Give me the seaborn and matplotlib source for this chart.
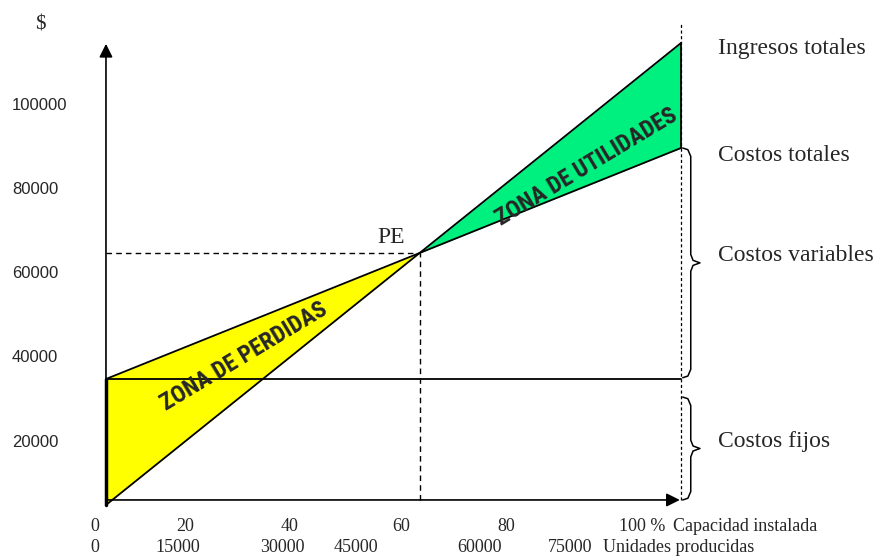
import numpy as np
import pandas as pd
import matplotlib
matplotlib.use("Agg")
import matplotlib.pyplot as plt
import seaborn as sns

# ---------------- data ----------------
capacidad = [0, 100]                    # % capacidad instalada
ingresos_totales = [5000, 115000]       # $
costos_totales = [35000, 90000]         # $
costos_fijos = [35000, 35000]           # $
eje_base = 6200                          # $ level where the x axis is drawn
eje_tope = 114800                        # $ level of the y arrow tip
y_ticks = [20000, 40000, 60000, 80000, 100000]
pct_labels = ["0", "20", "40", "60", "80"]
pct_pos = [-1.9, 13.7, 32.0, 51.3, 69.7]
unid_labels = ["0", "15000", "30000", "45000", "60000", "75000"]
unid_pos = [-1.9, 12.5, 30.6, 43.5, 65.0, 80.7]

sns.set_theme(style="white")
plt.rcParams["font.family"] = ["Liberation Serif", "DejaVu Serif"]

fig = plt.figure(figsize=(8.92, 5.58), dpi=100)
ax = fig.add_axes([0, 0, 1, 1])
ax.set_xlim(-18.43, 136.7)
ax.set_ylim(-7619, 125238)
ax.axis("off")

# break-even point from the two lines
r0, r1 = ingresos_totales
c0, c1 = costos_totales
pe_x = (c0 - r0) / ((r1 - r0) / 100 - (c1 - c0) / 100)
pe_y = r0 + (r1 - r0) / 100 * pe_x

xs = np.array([0, pe_x, 100])
rev = np.interp(xs, capacidad, ingresos_totales)
cst = np.interp(xs, capacidad, costos_totales)

ax.fill_between(xs, rev, cst, where=[True, True, False], color="#FFFF00", lw=0, zorder=1)
ax.fill_between(xs, rev, cst, where=[False, True, True], color="#00F080", lw=0, zorder=1)

df = pd.DataFrame({
    "capacidad": capacidad * 3,
    "valor": ingresos_totales + costos_totales + costos_fijos,
    "serie": ["Ingresos"] * 2 + ["Costos"] * 2 + ["Fijos"] * 2,
})
sns.lineplot(data=df, x="capacidad", y="valor", units="serie", estimator=None,
             color="black", lw=1.3, ax=ax, zorder=3, legend=False)

# thick left edge of the loss zone and right edge of the profit zone
ax.plot([0, 0], [ingresos_totales[0], costos_fijos[0]], color="black", lw=2.5, zorder=4)
ax.plot([100, 100], [costos_totales[1], ingresos_totales[1]], color="black", lw=1.3, zorder=4)

# axes with arrows
ax.annotate("", xy=(0, eje_tope), xytext=(0, eje_base),
            arrowprops=dict(arrowstyle="-|>", mutation_scale=20, color="black", lw=1.2,
                            shrinkA=0, shrinkB=0), zorder=5)
ax.annotate("", xy=(99.8, eje_base), xytext=(0, eje_base),
            arrowprops=dict(arrowstyle="-|>", mutation_scale=20, color="black", lw=1.2,
                            shrinkA=0, shrinkB=0), zorder=5)

# dashed guides
ax.plot([0, pe_x], [pe_y, pe_y], color="black", lw=1, ls=(0, (4, 3)), zorder=2)
ax.plot([pe_x, pe_x], [eje_base, pe_y], color="black", lw=1, ls=(0, (4, 3)), zorder=2)
ax.plot([100, 100], [eje_base, 120000], color="black", lw=0.9, ls=(0, (2.5, 2)), zorder=2)

# braces
def brace(ax, x0, y_top, y_bot):
    xm = x0 + 1.4
    xt = x0 + 3.0
    r = 2000
    mid = (y_top + y_bot) / 2
    px = [x0, x0 + 0.9, xm, xm, xm + 0.4, xt, xm + 0.4, xm, xm, x0 + 0.9, x0]
    py = [y_top, y_top - 0.2 * r, y_top - r, mid + r, mid + 0.3 * r, mid,
          mid - 0.3 * r, mid - r, y_bot + r, y_bot + 0.2 * r, y_bot]
    ax.plot(px, py, color="black", lw=1.1, zorder=3)

brace(ax, 100.3, costos_totales[1], costos_fijos[1] + 300)
brace(ax, 100.3, costos_fijos[1] - 4300, eje_base)

# texts
ax.text(-11.5, 119300, "$", fontsize=15, ha="center", va="center")
for v in y_ticks:
    ax.text(-16.35, v, str(v), fontsize=12, ha="left", va="center",
            family=["Liberation Sans", "DejaVu Sans"])
for lab, p in zip(pct_labels, pct_pos):
    ax.text(p, 0, lab, fontsize=13, ha="center", va="center")
ax.text(93.3, 0, "100 %", fontsize=13, ha="center", va="center")
ax.text(98.6, 0, "Capacidad instalada", fontsize=13, ha="left", va="center")
for lab, p in zip(unid_labels, unid_pos):
    ax.text(p, -5000, lab, fontsize=13, ha="center", va="center")
ax.text(86.4, -5000, "Unidades producidas", fontsize=13, ha="left", va="center")

lab_fs = 17
ax.text(106.4, 113800, "Ingresos totales", fontsize=lab_fs, ha="left", va="center")
ax.text(106.4, 88300, "Costos totales", fontsize=lab_fs, ha="left", va="center")
ax.text(106.4, 64500, "Costos variables", fontsize=lab_fs, ha="left", va="center")
ax.text(106.4, 20200, "Costos fijos", fontsize=lab_fs, ha="left", va="center")
ax.text(49.6, 68800, "PE", fontsize=17, ha="center", va="center")

zfam = ["Liberation Sans Narrow", "Roboto Condensed", "DejaVu Sans Condensed", "Liberation Sans"]
ax.text(24.0, 40240, "ZONA DE PERDIDAS", fontsize=17, fontweight="bold", rotation=31,
        rotation_mode="anchor", ha="center", va="center", family=zfam, zorder=6)
ax.text(83.5, 85480, "ZONA DE UTILIDADES", fontsize=17, fontweight="bold", rotation=31,
        rotation_mode="anchor", ha="center", va="center", family=zfam, zorder=6)

fig.savefig("out.png", dpi=100)
